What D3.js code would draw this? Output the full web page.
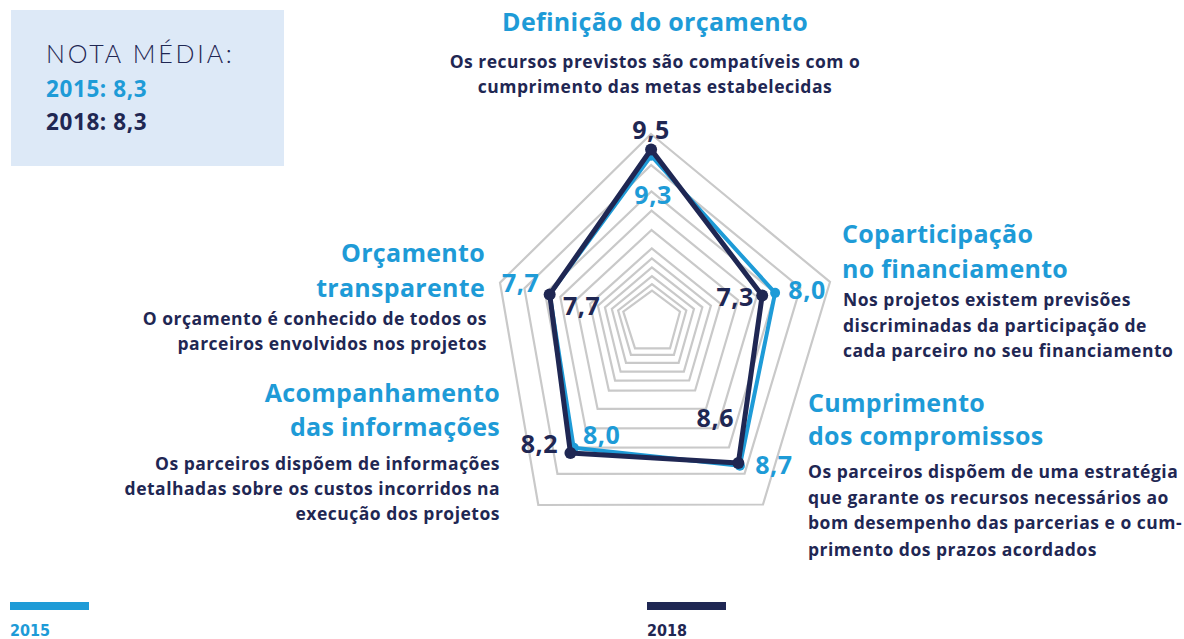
<!DOCTYPE html>
<html><head><meta charset="utf-8">
<script src="https://cdn.jsdelivr.net/npm/d3@7"></script>
<style>body{margin:0;background:#fff;} svg{display:block}</style>
</head><body><svg id="c" width="1184" height="639"></svg>
<script>
// ---------- DATA ----------
const categories = ["Definição do orçamento","Coparticipação no financiamento","Cumprimento dos compromissos","Acompanhamento das informações","Orçamento transparente"];
const categoryTitles = [["Definição do orçamento"],["Coparticipação","no financiamento"],["Cumprimento","dos compromissos"],["Acompanhamento","das informações"],["Orçamento","transparente"]];
const categoryNotes = [
  ["Os recursos previstos são compatíveis com o","cumprimento das metas estabelecidas"],
  ["Nos projetos existem previsões","discriminadas da participação de","cada parceiro no seu financiamento"],
  ["Os parceiros dispõem de uma estratégia","que garante os recursos necessários ao","bom desempenho das parcerias e o cum-","primento dos prazos acordados"],
  ["Os parceiros dispõem de informações","detalhadas sobre os custos incorridos na","execução dos projetos"],
  ["O orçamento é conhecido de todos os","parceiros envolvidos nos projetos"]
];
const years = ["2015","2018"];
const values2015 = [9.3, 8.0, 8.7, 8.0, 7.7];
const values2018 = [9.5, 7.3, 8.6, 8.2, 7.7];
const averageLabel = "NOTA MÉDIA:";
const averages = ["8,3","8,3"];
const gridLevels = [0,1,2,3,4,5,6,7,8,9,10];

// ---------- LAYOUT ----------
const BLUE = "#1e9bd7", NAVY = "#1f2753", GRID = "#c9c9c9";
const cx = 652, cy = 321;
// inner / outer vertex offsets of each spoke (the drawn grid is irregular)
const spokeFrame = [
  {inner:[0,-30.3], outer:[-1,-187]},
  {inner:[28,-9.3], outer:[178,-39]},
  {inner:[18,27.3], outer:[111,183.5]},
  {inner:[-17,27.3], outer:[-113.7,184]},
  {inner:[-28.7,-9.3], outer:[-152,-38.3]}
];
const ringT = d3.scaleLinear().domain(gridLevels)
  .range([0,.042,.093,.149,.206,.270,.387,.511,.634,.802,1]);
const spokeX = spokeFrame.map(s => d3.scaleLinear().domain([0,1]).range([cx+s.inner[0], cx+s.outer[0]]));
const spokeY = spokeFrame.map(s => d3.scaleLinear().domain([0,1]).range([cy+s.inner[1], cy+s.outer[1]]));
const pt = (i,v) => [spokeX[i](ringT(v)), spokeY[i](ringT(v))];

const svg = d3.select("#c");
const line = d3.line().curve(d3.curveLinearClosed);

// grid rings
svg.append("g").selectAll("path").data(gridLevels).join("path")
  .attr("d", lv => line(categories.map((c,i) => pt(i,lv))))
  .attr("fill","none").attr("stroke",GRID).attr("stroke-width",2.2);

// series
const series = [
  {year:years[0], values:values2015, color:BLUE, w:4, r:5},
  {year:years[1], values:values2018, color:NAVY, w:5, r:6}
];
series.forEach(s => {
  const pts = s.values.map((v,i) => pt(i,v));
  svg.append("path").attr("d", line(pts)).attr("fill","none")
    .attr("stroke", s.color).attr("stroke-width", s.w).attr("stroke-linejoin","round");
  svg.append("g").selectAll("circle").data(pts).join("circle")
    .attr("cx", d=>d[0]).attr("cy", d=>d[1]).attr("r", s.r).attr("fill", s.color);
});

// value labels (offsets from point)
const labelOffsets = [
  [[2,48],[32,6],[34,8],[28,-4],[-29,-2]],
  [[0,-11],[-27,11],[-23,-36],[-31,0],[32,21]]
];
const fmt = v => d3.format(".1f")(v).replace(".",",");
series.forEach((s,k) => {
  svg.append("g").selectAll("text").data(s.values).join("text")
    .attr("x",(v,i)=>pt(i,v)[0]+labelOffsets[k][i][0])
    .attr("y",(v,i)=>pt(i,v)[1]+labelOffsets[k][i][1])
    .attr("text-anchor","middle").attr("fill",s.color)
    .attr("font-family","'Open Sans',sans-serif").attr("font-weight",700)
    .attr("font-size",25).attr("letter-spacing",0.6)
    .text(v=>fmt(v));
});

// category labels
const labelPos = [
  {x:655, anchor:"middle", title:[31], nx:655, notes:[68,93]},
  {x:842, anchor:"start", title:[243,278], nx:843, notes:[306,332,357]},
  {x:808, anchor:"start", title:[412,445], nx:808, notes:[478,504,529,556]},
  {x:500, anchor:"end", title:[402,436], nx:500, notes:[470,495,520]},
  {x:485, anchor:"end", title:[262,297], nx:487, notes:[325,350]}
];
categoryTitles.forEach((lines,i) => {
  const p = labelPos[i];
  const g = svg.append("g").attr("text-anchor",p.anchor).attr("font-family","'Open Sans',sans-serif").attr("font-weight",700);
  lines.forEach((t,j) => g.append("text").attr("x",p.x).attr("y",p.title[j]).attr("font-size",25).attr("letter-spacing",0.3).attr("fill",BLUE).text(t));
  categoryNotes[i].forEach((t,j) => g.append("text").attr("x",p.nx).attr("y",p.notes[j]).attr("font-size",17.5).attr("letter-spacing",0.5).attr("fill",NAVY).text(t));
});

// average box
svg.append("rect").attr("x",11).attr("y",10).attr("width",273).attr("height",156).attr("fill","#dde9f7");
svg.append("text").attr("x",46).attr("y",63).attr("font-family","Lato, sans-serif").attr("font-weight",300)
  .attr("font-size",25).attr("letter-spacing",2.8).attr("fill",NAVY).text(averageLabel);
years.forEach((y,k) => {
  svg.append("text").attr("x",46).attr("y",97+k*33).attr("font-family","'Open Sans',sans-serif").attr("font-weight",700)
    .attr("font-size",22.5).attr("letter-spacing",0.6).attr("fill",k?NAVY:BLUE).text(y+": "+averages[k]);
});

// legend
const legendX = [10,647];
years.forEach((y,k) => {
  svg.append("rect").attr("x",legendX[k]).attr("y",602).attr("width",79).attr("height",8).attr("fill",series[k].color);
  svg.append("text").attr("x",legendX[k]).attr("y",636).attr("font-family","'Liberation Sans Narrow','DejaVu Sans Condensed',sans-serif")
    .attr("font-weight",700).attr("font-size",16).attr("fill",series[k].color).text(y);
});
</script></body></html>
